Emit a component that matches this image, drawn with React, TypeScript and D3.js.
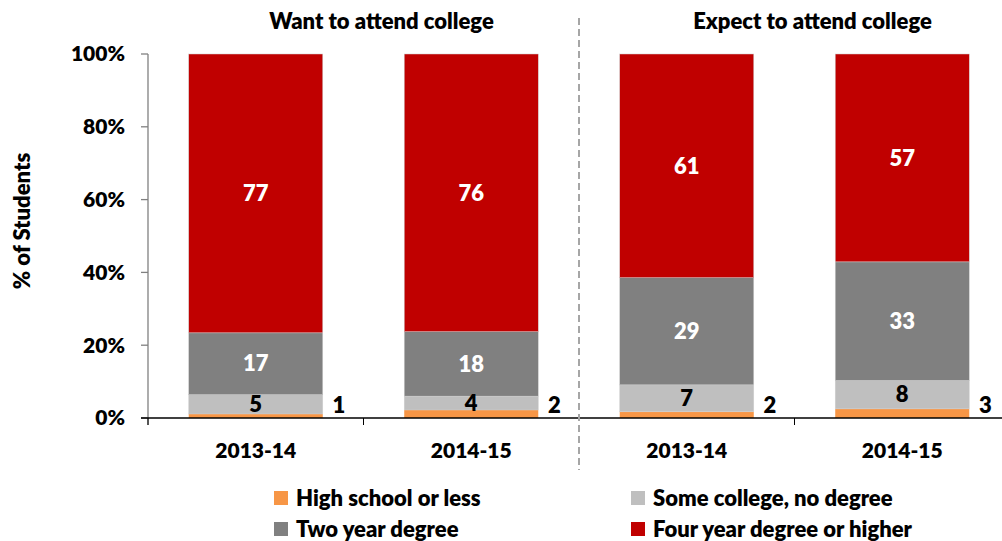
import React from "react";
import * as d3 from "d3";

const groups = ["Want to attend college", "Expect to attend college"];
const years = ["2013-14", "2014-15"];
const seriesNames = [
  "High school or less",
  "Some college, no degree",
  "Two year degree",
  "Four year degree or higher",
];
const highSchool = [1.1, 2.2, 1.7, 2.5];
const someCollege = [5.3, 3.8, 7.4, 7.8];
const twoYear = [17.0, 17.7, 29.4, 32.6];
const fourYear = [76.6, 76.3, 61.4, 57.1];
const yTicks = [0, 0.2, 0.4, 0.6, 0.8, 1.0];

const colors = ["#F79646", "#BFBFBF", "#808080", "#C00000"];
const FONT = "Lato, 'Open Sans', sans-serif";
const FW = 800;

export default function App() {
  const W = 1002;
  const H = 541;
  const x0 = 148;
  const x1 = 1010;
  const yBase = 418;
  const yTop = 54;

  const barKeys = groups.flatMap((g, gi) => years.map((y, yi) => `${gi}-${yi}`));
  const rows = barKeys.map((k, i) => ({
    key: k,
    s0: highSchool[i],
    s1: someCollege[i],
    s2: twoYear[i],
    s3: fourYear[i],
  }));

  const x = d3.scaleBand<string>().domain(barKeys).range([x0, x1]).paddingInner(0.378).paddingOuter(0.189);
  const y = d3.scaleLinear().domain([0, 1]).range([yBase, yTop]);
  const stack = d3.stack<any>().keys(["s0", "s1", "s2", "s3"]).offset(d3.stackOffsetExpand);
  const stacked = stack(rows);

  const step = x.step();
  const groupCenters = groups.map((g, gi) => {
    const a = x(`${gi}-0`)! + x.bandwidth() / 2;
    const b = x(`${gi}-1`)! + x.bandwidth() / 2;
    return (a + b) / 2;
  });
  const sepX = x0 + 2 * step;
  const rawVals = [highSchool, someCollege, twoYear, fourYear];

  return (
    <svg width={W} height={H} style={{ position: "absolute", left: 0, top: 0, background: "#fff" }} fontFamily={FONT}>
      {/* bars */}
      {stacked.map((layer, si) => (
        <g key={si}>
          {layer.map((d, i) => (
            <rect
              key={i}
              x={x(barKeys[i])}
              y={y(d[1])}
              width={x.bandwidth()}
              height={y(d[0]) - y(d[1])}
              fill={colors[si]}
              stroke={si === 0 ? "none" : "#d0d0d0"}
              strokeWidth={0.5}
            />
          ))}
        </g>
      ))}
      {/* labels */}
      {stacked.map((layer, si) =>
        layer.map((d, i) => {
          const v = Math.round(rawVals[si][i]);
          const bx = x(barKeys[i])!;
          if (si === 0) {
            return (
              <text key={`l${si}-${i}`} x={bx + x.bandwidth() + 16} y={405} dy="0.35em" textAnchor="middle" fontSize={22} fontWeight={FW} fill="#000">
                {v}
              </text>
            );
          }
          const cy = (y(d[0]) + y(d[1])) / 2;
          return (
            <text key={`l${si}-${i}`} x={bx + x.bandwidth() / 2} y={cy} dy="0.35em" textAnchor="middle" fontSize={22} fontWeight={FW} fill={si === 1 ? "#000" : "#fff"}>
              {v}
            </text>
          );
        })
      )}
      {/* y axis */}
      <line x1={x0} x2={x0} y1={yTop} y2={yBase + 7} stroke="#808080" strokeWidth={1.3} />
      {yTicks.map((t) => (
        <g key={t}>
          <line x1={x0 - 7} x2={x0} y1={y(t)} y2={y(t)} stroke="#808080" strokeWidth={1.3} />
          <text x={125} y={y(t)} dy="0.35em" textAnchor="end" fontSize={21} fontWeight={FW} fill="#000">
            {d3.format(".0%")(t)}
          </text>
        </g>
      ))}
      <text transform={`translate(22,221) rotate(-90)`} textAnchor="middle" dy="0.35em" fontSize={22} fontWeight={FW} fill="#000">
        % of Students
      </text>
      {/* x axis */}
      <line x1={x0 - 7} x2={W} y1={yBase} y2={yBase} stroke="#000" strokeWidth={1.3} />
      {[0, 1, 3, 4].map((i) => (
        <line key={i} x1={x0 + i * step} x2={x0 + i * step} y1={yBase} y2={yBase + 7} stroke="#000" strokeWidth={1} />
      ))}
      {barKeys.map((k, i) => (
        <text key={k} x={x(k)! + x.bandwidth() / 2} y={451} dy="0.35em" textAnchor="middle" fontSize={21} fontWeight={FW} fill="#000">
          {years[i % 2]}
        </text>
      ))}
      {/* separator */}
      <line x1={sepX} x2={sepX} y1={18} y2={470} stroke="#A6A6A6" strokeWidth={2} strokeDasharray="7,4" />
      {/* group titles */}
      {groups.map((g, gi) => (
        <text key={g} x={groupCenters[gi] + 18} y={21} dy="0.35em" textAnchor="middle" fontSize={22} fontWeight={FW} fill="#000">
          {g}
        </text>
      ))}
      {/* legend */}
      {seriesNames.map((s, i) => {
        const lx = i % 2 === 0 ? 274 : 631;
        const ly = i < 2 ? 498 : 529;
        return (
          <g key={s}>
            <rect x={lx} y={ly - 7} width={14} height={14} fill={colors[i]} />
            <text x={lx + 22} y={ly} dy="0.35em" fontSize={22} fontWeight={FW} fill="#000">
              {s}
            </text>
          </g>
        );
      })}
    </svg>
  );
}
